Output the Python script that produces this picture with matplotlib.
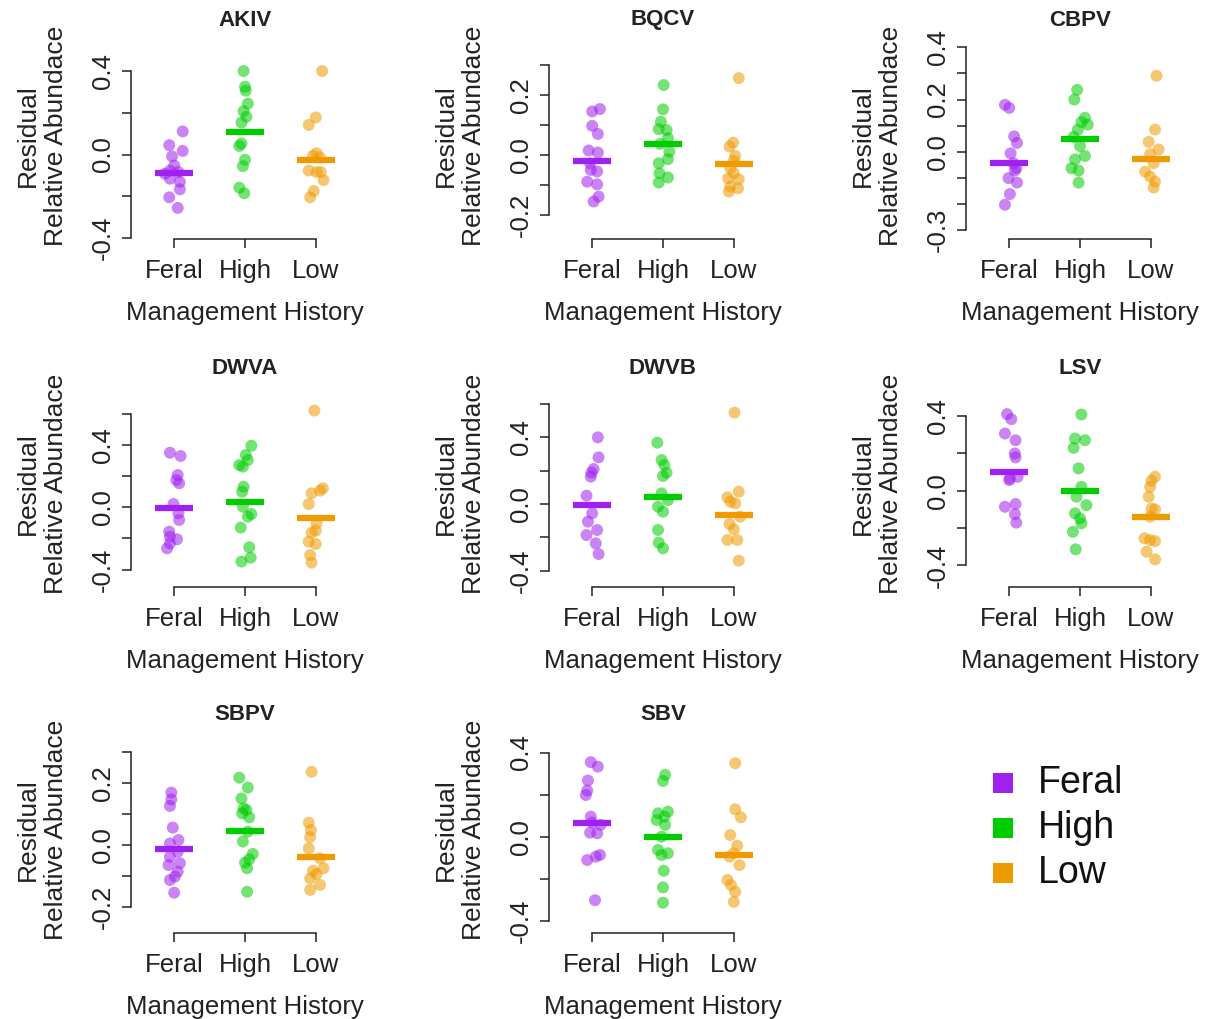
import matplotlib
matplotlib.use('Agg')
import matplotlib.pyplot as plt
from matplotlib.patches import Rectangle

plt.rcParams['font.family'] = ['Liberation Sans', 'DejaVu Sans']

groups = ['Feral', 'High', 'Low']
viruses = ['AKIV', 'BQCV', 'CBPV', 'DWVA', 'DWVB', 'LSV', 'SBPV', 'SBV']
mean_colors = ['#A020F0', '#00CD00', '#EE9A00']

# ---- data (residual relative abundance, per group) ----
AKIV_y = [[0.111, 0.045, 0.017, -0.009, -0.053, -0.077, -0.084, -0.092, -0.116, -0.131, -0.167, -0.205, -0.256],
          [0.4, 0.325, 0.306, 0.244, 0.208, 0.181, 0.153, 0.053, 0.041, -0.025, -0.056, -0.159, -0.186],
          [0.4, 0.178, 0.142, 0.006, -0.006, -0.014, -0.077, -0.084, -0.123, -0.084, -0.175, -0.205]]
AKIV_dx = [[0.12, -0.07, 0.12, -0.03, 0.0, -0.06, 0.06, -0.13, -0.06, 0.08, 0.08, -0.07, 0.05],
           [-0.02, 0.0, 0.01, 0.04, -0.02, 0.02, -0.05, -0.05, -0.08, 0.0, -0.03, -0.08, -0.01],
           [0.09, 0.0, -0.1, 0.01, -0.04, 0.06, -0.1, 0.01, 0.11, 0.07, -0.03, -0.08]]
AKIV_mean = [-0.0875, 0.106, -0.027]

BQCV_y = [[0.146, 0.154, 0.098, 0.071, 0.016, 0.009, -0.027, -0.049, -0.054, -0.088, -0.097, -0.138, -0.154],
          [0.234, 0.153, 0.112, 0.087, 0.084, 0.057, 0.038, 0.012, -0.013, -0.027, -0.06, -0.074, -0.091],
          [0.257, 0.042, 0.029, -0.002, -0.018, -0.043, -0.06, -0.077, -0.08, -0.104, -0.11, -0.121]]
BQCV_dx = [[0.0, 0.11, 0.0, 0.08, -0.05, 0.08, -0.03, -0.02, 0.07, -0.07, 0.07, 0.09, 0.02],
           [0.01, 0.0, -0.03, -0.06, 0.05, 0.07, -0.04, 0.09, 0.07, -0.06, -0.05, 0.07, -0.06],
           [0.07, -0.01, -0.06, 0.02, 0.0, -0.05, 0.0, -0.08, 0.07, -0.05, 0.06, -0.07]]
BQCV_mean = [-0.019, 0.037, -0.03]

CBPV_y = [[0.18, 0.168, 0.059, 0.034, -0.006, -0.044, -0.063, -0.072, -0.101, -0.118, -0.162, -0.203],
          [0.237, 0.2, 0.13, 0.114, 0.104, 0.085, 0.057, 0.022, -0.016, -0.029, -0.063, -0.072, -0.118],
          [0.291, 0.085, 0.038, 0.009, -0.009, -0.044, -0.076, -0.095, -0.114, -0.137]]
CBPV_dx = [[-0.06, 0.0, 0.07, 0.11, 0.02, 0.06, 0.1, 0.08, -0.01, 0.11, 0.01, -0.06],
           [-0.04, -0.08, 0.07, 0.02, 0.11, -0.03, -0.09, 0.0, 0.07, -0.07, -0.12, -0.02, -0.02],
           [0.08, 0.06, -0.03, 0.11, -0.01, 0.04, -0.08, -0.01, 0.06, 0.04]]
CBPV_mean = [-0.042, 0.048, -0.029]

DWVA_y = [[0.35, 0.329, 0.207, 0.175, 0.154, 0.021, -0.038, -0.081, -0.156, -0.188, -0.205, -0.231, -0.263],
          [0.395, 0.335, 0.303, 0.271, 0.261, 0.132, 0.1, 0.004, -0.043, -0.06, -0.13, -0.256, -0.323, -0.348],
          [0.62, 0.122, 0.107, 0.09, 0.021, -0.103, -0.15, -0.162, -0.22, -0.235, -0.306, -0.355]]
DWVA_dx = [[-0.06, 0.09, 0.05, 0.03, 0.07, -0.01, 0.06, 0.07, -0.07, -0.06, 0.04, -0.06, -0.1],
           [0.09, 0.01, 0.04, -0.08, -0.03, -0.02, -0.04, -0.03, 0.09, 0.04, -0.06, 0.06, 0.08, -0.05],
           [-0.02, 0.1, 0.06, -0.06, -0.1, 0.01, 0.0, -0.06, -0.1, 0.0, -0.08, -0.06]]
DWVA_mean = [-0.006, 0.036, -0.071]

DWVB_y = [[0.4, 0.28, 0.21, 0.188, 0.164, 0.05, -0.056, -0.106, -0.156, -0.186, -0.236, -0.3],
          [0.368, 0.264, 0.234, 0.188, 0.168, 0.064, 0.024, -0.016, -0.046, -0.156, -0.232, -0.266],
          [0.548, 0.074, 0.04, 0.014, 0.004, -0.076, -0.12, -0.152, -0.216, -0.216, -0.34]]
DWVB_dx = [[0.08, 0.09, 0.02, -0.01, -0.02, -0.08, 0.0, -0.06, 0.07, -0.08, 0.05, 0.09],
           [-0.08, -0.02, 0.02, 0.05, 0.0, -0.02, 0.07, -0.07, 0.0, -0.07, -0.06, 0.0],
           [0.01, 0.07, -0.09, -0.05, 0.02, 0.09, -0.06, 0.0, -0.09, 0.05, 0.07]]
DWVB_mean = [-0.006, 0.044, -0.066]

LSV_y = [[0.411, 0.384, 0.307, 0.271, 0.2, 0.179, 0.066, 0.075, 0.057, -0.086, -0.071, -0.125, -0.171],
         [0.409, 0.28, 0.271, 0.23, 0.12, 0.021, -0.032, -0.077, -0.121, -0.148, -0.175, -0.22, -0.314],
         [0.075, 0.054, 0.021, -0.032, -0.095, -0.1, -0.139, -0.255, -0.264, -0.27, -0.327, -0.368]]
LSV_dx = [[-0.03, 0.03, -0.06, 0.09, 0.08, 0.09, 0.01, 0.12, 0.0, -0.06, 0.09, 0.08, 0.1],
          [0.02, -0.07, 0.07, -0.09, -0.02, 0.02, -0.05, 0.09, -0.07, 0.0, 0.02, -0.1, -0.06],
          [0.06, 0.01, -0.01, -0.03, 0.01, 0.06, -0.01, -0.09, -0.01, 0.06, -0.06, 0.06]]
LSV_mean = [0.102, -0.002, -0.139]

SBPV_y = [[0.168, 0.146, 0.125, 0.055, 0.015, 0.004, -0.023, -0.039, -0.06, -0.066, -0.087, -0.103, -0.114, -0.155],
          [0.216, 0.184, 0.149, 0.117, 0.112, 0.101, 0.088, 0.042, 0.01, -0.03, -0.047, -0.058, -0.076, -0.152],
          [0.235, 0.071, 0.047, 0.024, -0.012, -0.044, -0.076, -0.084, -0.095, -0.109, -0.13, -0.146]]
SBPV_dx = [[-0.04, -0.04, -0.06, -0.02, 0.06, -0.06, 0.05, -0.06, 0.08, -0.08, 0.05, 0.01, -0.06, 0.0],
           [-0.08, 0.04, -0.05, -0.02, 0.02, -0.04, 0.06, 0.04, -0.03, 0.11, 0.06, 0.0, 0.03, 0.03],
           [-0.06, -0.1, -0.07, -0.08, -0.1, 0.06, 0.11, -0.04, 0.01, -0.08, 0.06, -0.08]]
SBPV_mean = [-0.014, 0.045, -0.041]

SBV_y = [[0.354, 0.333, 0.267, 0.219, 0.198, 0.095, 0.067, 0.056, 0.019, 0.016, -0.087, -0.095, -0.111, -0.302],
         [0.294, 0.265, 0.111, 0.119, 0.095, 0.079, 0.056, 0.0, -0.063, -0.079, -0.087, -0.162, -0.241, -0.314],
         [0.349, 0.13, 0.092, 0.008, -0.043, -0.079, -0.095, -0.135, -0.206, -0.23, -0.262, -0.31]]
SBV_dx = [[-0.02, 0.08, -0.06, -0.07, -0.09, -0.02, 0.0, 0.12, -0.03, 0.07, 0.11, 0.05, -0.07, 0.04],
          [0.03, 0.0, -0.07, 0.07, 0.02, -0.09, 0.03, -0.02, -0.07, 0.07, -0.02, 0.01, 0.0, 0.0],
          [0.02, 0.02, 0.1, -0.05, 0.05, 0.0, -0.06, 0.08, -0.09, -0.04, 0.02, 0.0]]
SBV_mean = [0.067, 0.0, -0.089]

# y ticks and which of them carry labels
yticks = {
    'AKIV': [-0.4, -0.2, 0.0, 0.2, 0.4],
    'BQCV': [-0.2, -0.1, 0.0, 0.1, 0.2, 0.3],
    'CBPV': [-0.3, -0.2, -0.1, 0.0, 0.1, 0.2, 0.3, 0.4],
    'DWVA': [-0.4, -0.2, 0.0, 0.2, 0.4, 0.6],
    'DWVB': [-0.4, -0.2, 0.0, 0.2, 0.4, 0.6],
    'LSV': [-0.4, -0.2, 0.0, 0.2, 0.4],
    'SBPV': [-0.2, -0.1, 0.0, 0.1, 0.2, 0.3],
    'SBV': [-0.4, -0.2, 0.0, 0.2, 0.4],
}
ylabeled = {
    'AKIV': [-0.4, 0.0, 0.4],
    'BQCV': [-0.2, 0.0, 0.2],
    'CBPV': [-0.3, 0.0, 0.2, 0.4],
    'DWVA': [-0.4, 0.0, 0.4],
    'DWVB': [-0.4, 0.0, 0.4],
    'LSV': [-0.4, 0.0, 0.4],
    'SBPV': [-0.2, 0.0, 0.2],
    'SBV': [-0.4, 0.0, 0.4],
}
ylims = {
    'AKIV': (-0.405, 0.549), 'BQCV': (-0.279, 0.384), 'CBPV': (-0.334, 0.428),
    'DWVA': (-0.511, 0.765), 'DWVB': (-0.498, 0.696), 'LSV': (-0.516, 0.551),
    'SBPV': (-0.285, 0.357), 'SBV': (-0.458, 0.488),
}

data_y = {'AKIV': AKIV_y, 'BQCV': BQCV_y, 'CBPV': CBPV_y, 'DWVA': DWVA_y,
          'DWVB': DWVB_y, 'LSV': LSV_y, 'SBPV': SBPV_y, 'SBV': SBV_y}
data_dx = {'AKIV': AKIV_dx, 'BQCV': BQCV_dx, 'CBPV': CBPV_dx, 'DWVA': DWVA_dx,
           'DWVB': DWVB_dx, 'LSV': LSV_dx, 'SBPV': SBPV_dx, 'SBV': SBV_dx}
data_mean = {'AKIV': AKIV_mean, 'BQCV': BQCV_mean, 'CBPV': CBPV_mean, 'DWVA': DWVA_mean,
             'DWVB': DWVB_mean, 'LSV': LSV_mean, 'SBPV': SBPV_mean, 'SBV': SBV_mean}

W, H = 1210, 1019
fig = plt.figure(figsize=(W / 100, H / 100), dpi=100)

col_left = [131, 549, 966]
pw = 228
rows = [(40, 239), (388, 587), (734, 933)]

FS = 18.5


def fmt(v):
    return '%.1f' % v if abs(v) > 1e-9 else '0.0'


for i, v in enumerate(viruses):
    r, c = divmod(i, 3)
    top, bot = rows[r]
    left = col_left[c]
    ax = fig.add_axes([left / W, 1 - bot / H, pw / W, (bot - top) / H])
    ax.set_xlim(0.39, 3.61)
    ax.set_ylim(*ylims[v])
    for g in range(3):
        xs = [g + 1 + d for d in data_dx[v][g]]
        ax.scatter(xs, data_y[v][g], s=74, color=mean_colors[g], alpha=0.55,
                   edgecolors='none', zorder=2)
        ax.hlines(data_mean[v][g], g + 1 - 0.27, g + 1 + 0.27, colors=mean_colors[g],
                  linewidth=4.5, zorder=3)
    for s in ['top', 'right']:
        ax.spines[s].set_visible(False)
    ax.spines['left'].set_bounds(yticks[v][0], yticks[v][-1])
    ax.spines['bottom'].set_bounds(1, 3)
    for s in ['left', 'bottom']:
        ax.spines[s].set_linewidth(1.1)
        ax.spines[s].set_color('#222222')
    ax.set_xticks([1, 2, 3])
    ax.set_xticklabels(groups, fontsize=FS, color='#222222')
    ax.set_yticks(yticks[v])
    ax.set_yticklabels([fmt(t) if any(abs(t - l) < 1e-9 for l in ylabeled[v]) else ''
                        for t in yticks[v]], fontsize=FS, color='#222222',
                       rotation=90, va='center')
    ax.tick_params(axis='both', length=6.5, width=1.1, color='#222222')
    ax.tick_params(axis='x', pad=8)
    ax.tick_params(axis='y', pad=5)
    ax.patch.set_alpha(0)

    cx = left + pw / 2
    fig.text(cx / W, 1 - (top - 20) / H, v, ha='center', va='center',
             fontsize=16, fontweight='bold', color='#222222')
    fig.text(cx / W, 1 - (bot + 74) / H, 'Management History', ha='center', va='center',
             fontsize=FS, color='#222222')
    fig.text((left - 89) / W, 1 - ((top + bot) / 2 - 4) / H, 'Residual\nRelative Abundace',
             ha='center', va='center', rotation=90, multialignment='center',
             fontsize=19, color='#222222', linespacing=1.2)

# legend
for g, name in enumerate(groups):
    yc = 783 + 45 * g
    fig.add_artist(Rectangle(((993) / W, 1 - (yc + 10) / H), 20 / W, 20 / H,
                             transform=fig.transFigure, facecolor=mean_colors[g],
                             edgecolor='none'))
    fig.text(1038 / W, 1 - yc / H, name, ha='left', va='center', fontsize=27,
             color='#111111')

fig.savefig('out.png', dpi=100, facecolor='white')
